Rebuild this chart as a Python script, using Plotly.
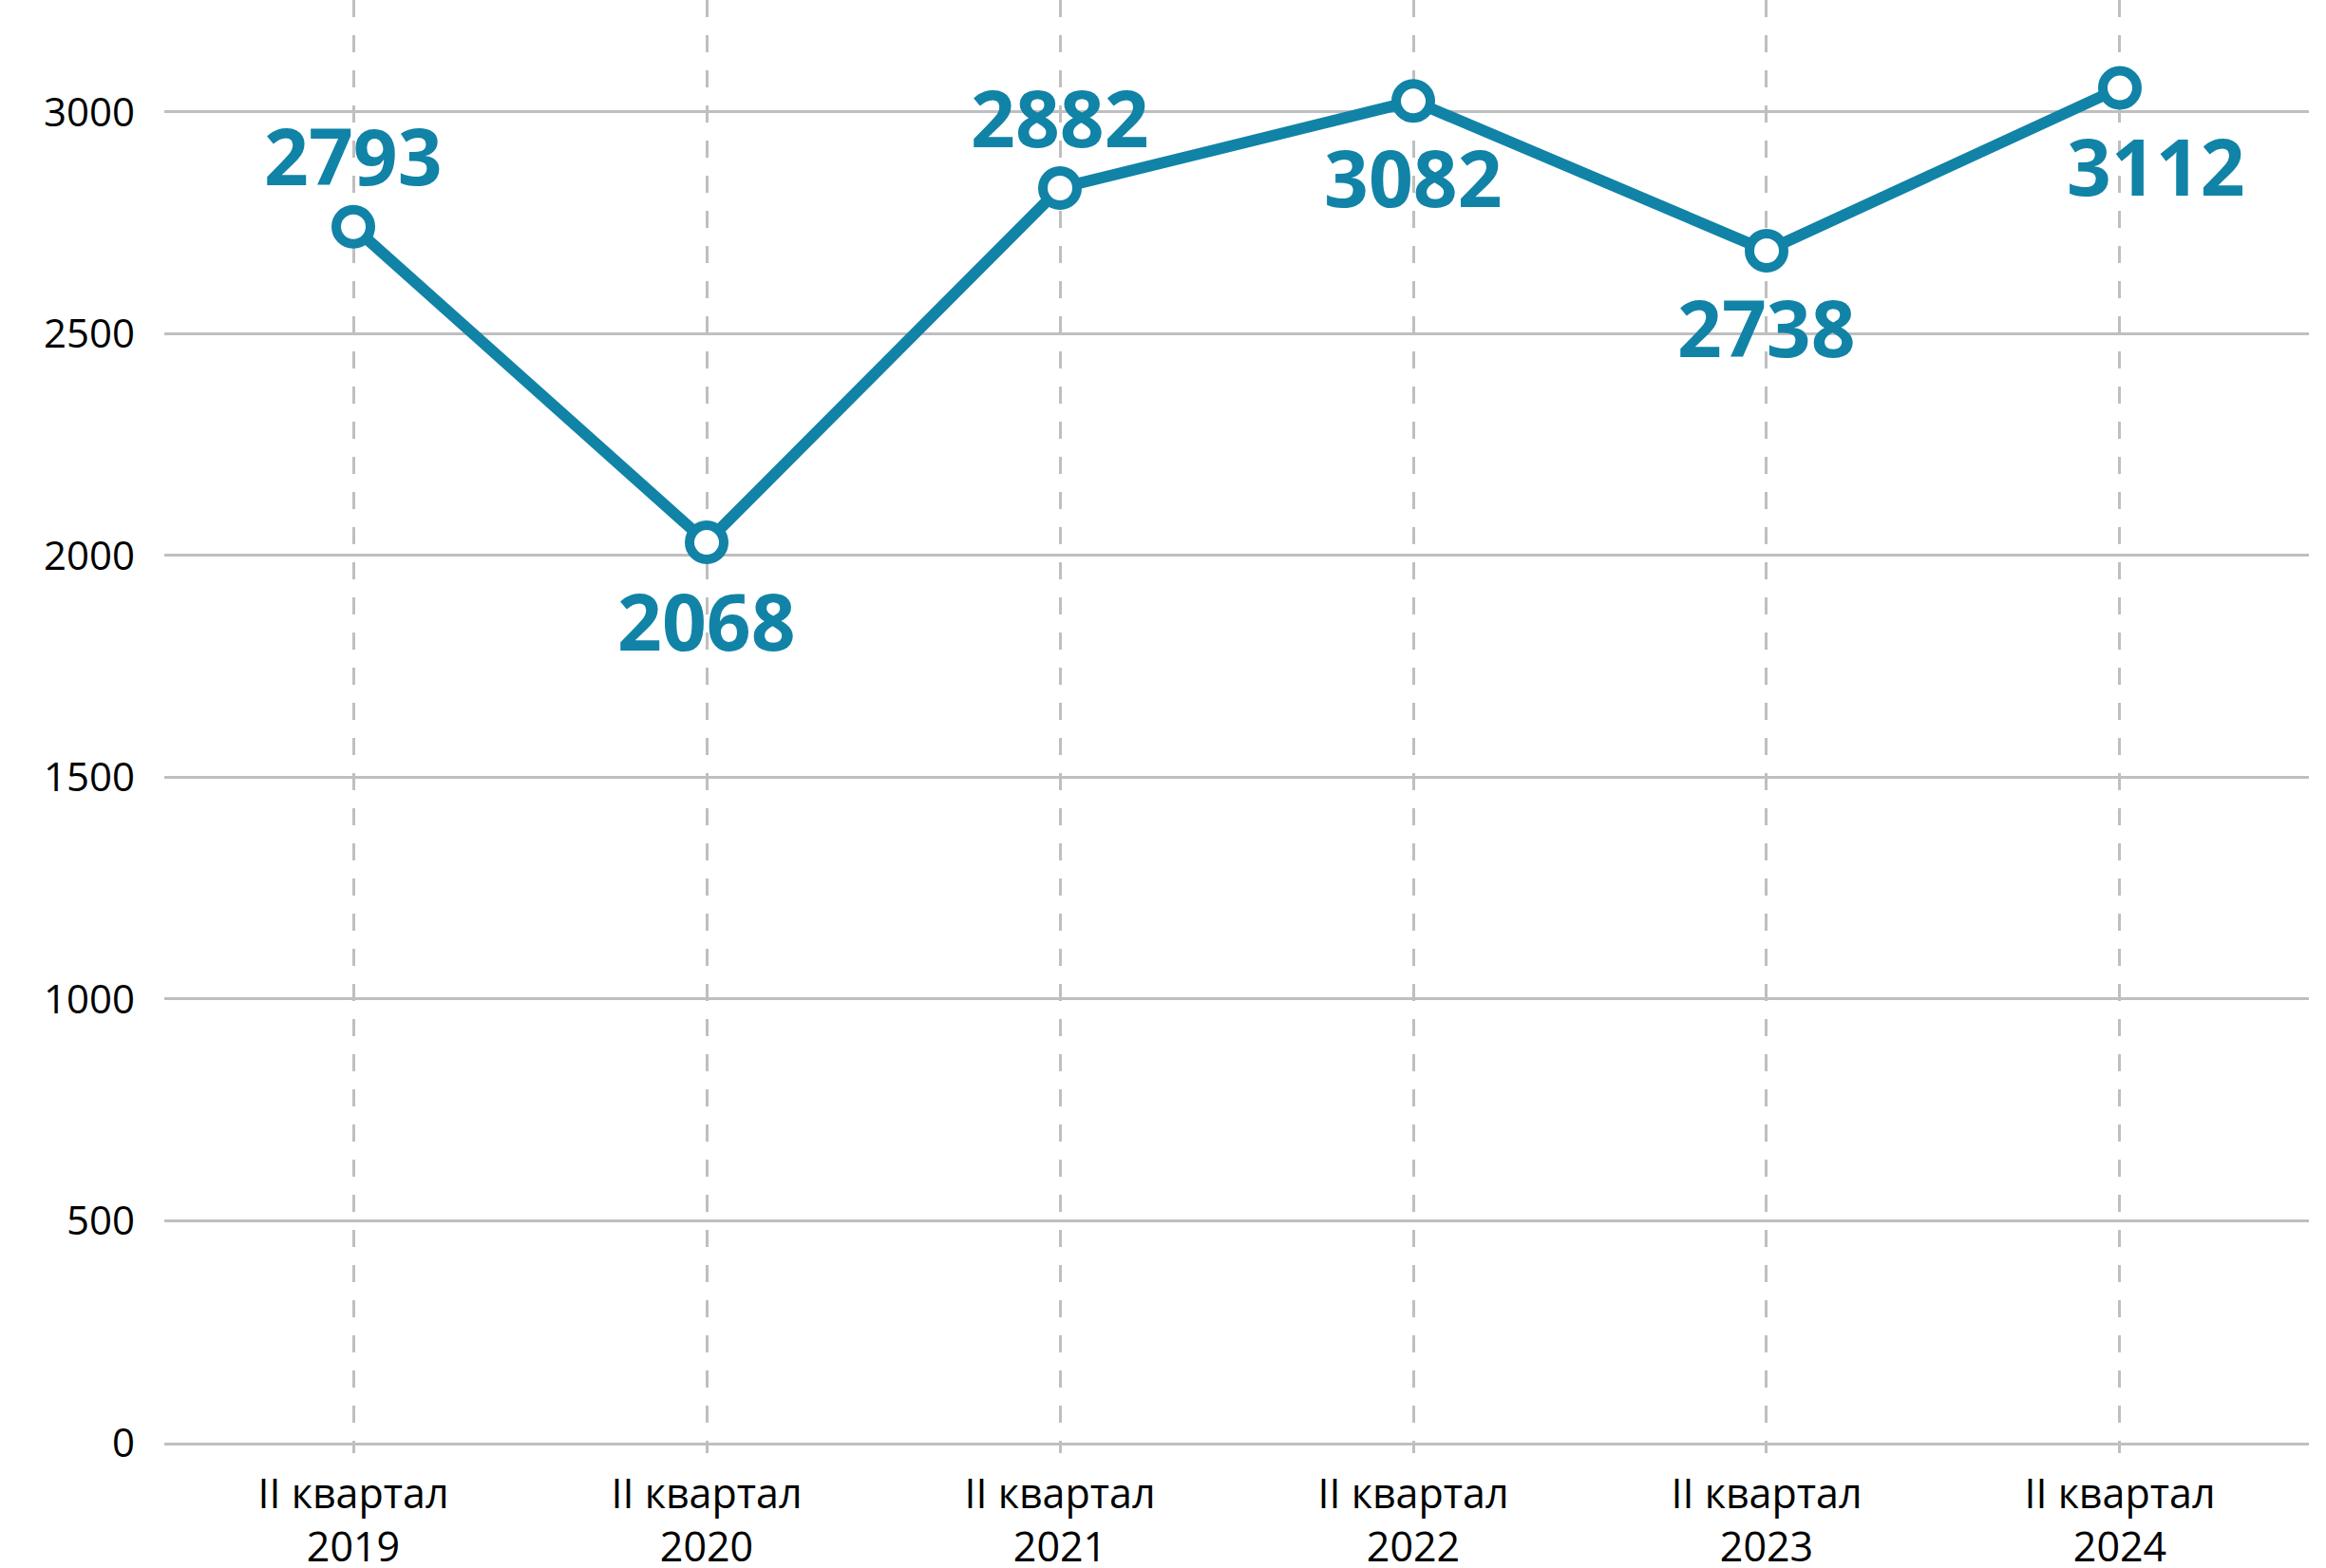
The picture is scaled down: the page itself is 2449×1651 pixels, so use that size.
import plotly.graph_objects as go

# ---- data ----
categories = ["II квартал<br>2019", "II квартал<br>2020", "II квартал<br>2021",
              "II квартал<br>2022", "II квартал<br>2023", "II квартал<br>2024"]
values = [2793, 2068, 2882, 3082, 2738, 3112]
y_tick_labels = ["0", "500", "1000", "1500", "2000", "2500", "3000"]
y_tick_numbers = [0, 500, 1000, 1500, 2000, 2500, 3000]

# ---- style ----
COLOR = "#1183a6"
GRID = "#bfbfbf"
FONT = "Open Sans"
AXIS_SCALE = 1.019          # the source chart's axis labels are slightly offset from its points
label_shift = [(0, 76), (0, -82), (0, 75), (0, -80), (0, -80), (38, -81)]

fig = go.Figure()
fig.add_trace(go.Scatter(
    x=categories, y=values, mode="lines+markers",
    line=dict(color=COLOR, width=12),
    marker=dict(size=36, color="white", line=dict(color=COLOR, width=10)),
    hoverinfo="skip", showlegend=False,
))

for cat, v, (dx, dy) in zip(categories, values, label_shift):
    fig.add_annotation(x=cat, y=v, text=f"<b>{v}</b>", showarrow=False,
                       xshift=dx, yshift=dy, yanchor="middle", xanchor="center",
                       font=dict(family=FONT, size=82, color=COLOR))

fig.update_layout(
    width=2449, height=1651,
    margin=dict(l=173, r=18, t=0, b=132),
    paper_bgcolor="white", plot_bgcolor="white",
    font=dict(family=FONT, size=43, color="#000000"),
)
fig.update_xaxes(
    type="category", range=[-0.535, 5.535], automargin=False,
    showgrid=True, gridcolor=GRID, gridwidth=2.5, griddash="18px,19px",
    ticks="outside", ticklen=8, tickwidth=2.5, tickcolor=GRID,
    showline=True, linecolor=GRID, linewidth=3,
    tickfont=dict(family=FONT, size=43, color="#000000"),
    ticklabelstandoff=6,
)
fig.update_yaxes(
    range=[0, 3314], automargin=False,
    tickvals=[t * AXIS_SCALE for t in y_tick_numbers], ticktext=y_tick_labels,
    showgrid=True, gridcolor=GRID, gridwidth=3, zeroline=False,
    ticks="", showline=False,
    tickfont=dict(family=FONT, size=42, color="#000000"),
    ticklabelstandoff=30,
)

fig.write_html("out.html", config={"displayModeBar": False},
               post_script="document.body.style.margin='0';")
